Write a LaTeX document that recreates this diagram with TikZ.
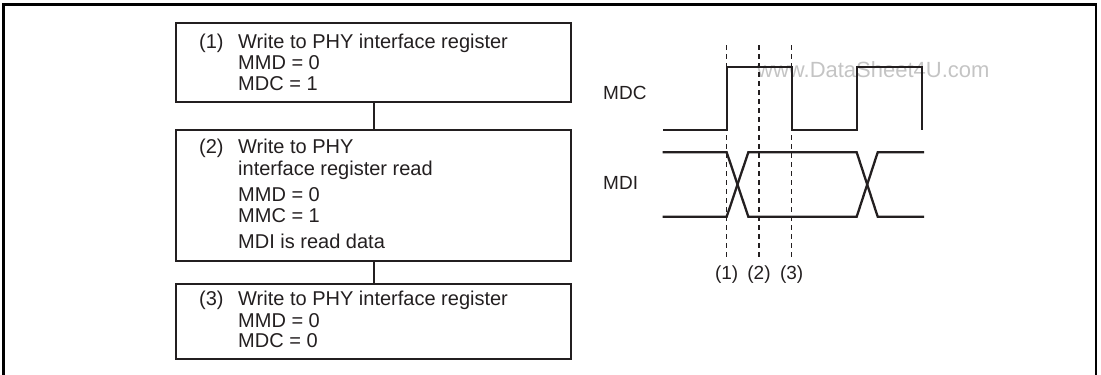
\documentclass[tikz,border=0pt]{standalone}
\usepackage{fontspec}
\setmainfont{Liberation Sans}
\definecolor{ink}{HTML}{231F20}
\definecolor{wm}{HTML}{C4C4C4}
\begin{document}
\begin{tikzpicture}[x=1pt,y=-1pt,
  frame/.style={line width=2.6pt,draw=black},
  boxst/.style={draw=ink,line width=2.3pt,rectangle,inner sep=0pt,anchor=north west,minimum width=395pt},
  conn/.style={draw=ink,line width=1.3pt},
  wave/.style={draw=ink,line width=2.3pt,line join=miter},
  guide/.style={draw=ink,line width=1.1pt,dash pattern=on 5pt off 4pt},
  txt/.style={anchor=base west,inner sep=0pt,text=ink,font=\fontsize{20}{22}\selectfont},
  lbl/.style={inner sep=0pt,text=ink,font=\fontsize{19}{21}\selectfont},
  water/.style={anchor=west,inner sep=0pt,text=wm,font=\fontsize{22}{24}\selectfont}]
\useasboundingbox (0,0) rectangle (1101,375);
% outer frame (open at bottom)
\draw[frame] (3.5,376) -- (3.5,4.3) -- (1096,4.3) -- (1096,376);
% flow boxes
\node[boxst,minimum height=78.7pt] (b1) at (175,22) {};
\node[boxst,minimum height=131pt] (b2) at (175,129) {};
\node[boxst,minimum height=75pt] (b3) at (175,283) {};
\coordinate (cx) at (374,0);
\draw[conn] (b1.south -| cx) -- (b2.north -| cx);
\draw[conn] (b2.south -| cx) -- (b3.north -| cx);
% box 1 text
\node[txt] (n1) at (199,48.4) {(1)};
\node[txt] (t11) at (238,48.4) {Write to PHY interface register};
\node[txt] (t12) at (238,69) {MMD = 0};
\node[txt] (t13) at (238,90) {MDC = 1};
% box 2 text
\node[txt] (n2) at (199,153.8) {(2)};
\node[txt] (t21) at (238,153.8) {Write to PHY};
\node[txt] (t22) at (238,175.8) {interface register read};
\node[txt] (t23) at (238,201.7) {MMD = 0};
\node[txt] (t24) at (238,222.7) {MMC = 1};
\node[txt] (t25) at (238,248.4) {MDI is read data};
% box 3 text
\node[txt] (n3) at (199,305.7) {(3)};
\node[txt] (t31) at (238,305.7) {Write to PHY interface register};
\node[txt] (t32) at (238,327.4) {MMD = 0};
\node[txt] (t33) at (238,347.4) {MDC = 0};
% watermark
\node[water] (wmk) at (757,70) {www.DataSheet4U.com};
% signal labels
\node[lbl,anchor=west] (mdc) at (603,93) {MDC};
\node[lbl,anchor=west] (mdi) at (603,182.7) {MDI};
% guide lines
\foreach \x/\k in {726.7/1,759/2,791.7/3} {
  \coordinate (g\k) at (\x,45);
  \coordinate (g\k e) at (\x,258);
  \draw[guide] (g\k) -- (g\k e);
  \node[lbl] (l\k) at (\x,275) {(\k)};
}
% MDC waveform
\draw[wave] (663,130) -- (726.7,130) -- (726.7,66.7) -- (791.7,66.7) -- (791.7,130)
  -- (856.7,130) -- (856.7,66.7) -- (921.7,66.7) -- (921.7,130);
% MDI waveform
\draw[wave] (662.7,152.3) -- (726.7,152.3) -- (748.3,216.7) -- (856.7,216.7) -- (877.7,152.3) -- (924,152.3);
\draw[wave] (662.7,216.7) -- (726.7,216.7) -- (748.3,152.3) -- (856.7,152.3) -- (877.7,216.7) -- (924,216.7);
\end{tikzpicture}
\end{document}
